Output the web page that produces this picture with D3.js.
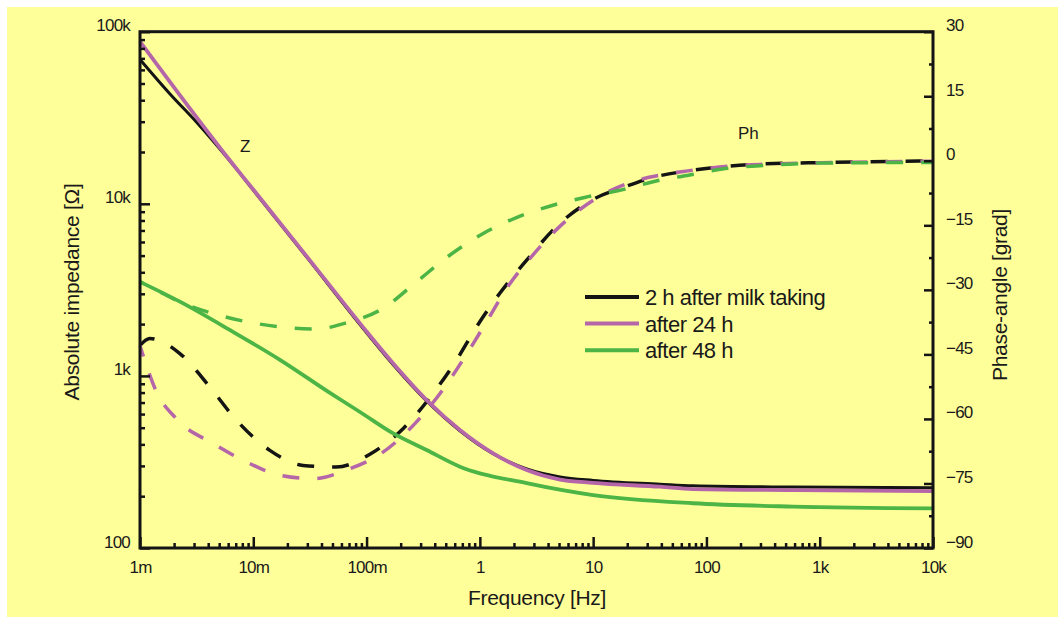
<!DOCTYPE html>
<html>
<head>
<meta charset="utf-8">
<script src="https://cdn.jsdelivr.net/npm/d3@7"></script>
<style>
  body { margin: 0; background: #fff; }
  text { font-family: "Liberation Sans", Arial, sans-serif; fill: #1a1a1a; }
</style>
</head>
<body>
<div id="chart"></div>
<script>
// ---- data ----
// impedance |Z| in ohm (left log axis)
const freqZBlack = [0.001, 0.00184, 0.00316, 0.00508, 0.0068, 0.01, 0.03, 0.093, 0.172, 0.339, 0.667, 1.31, 2.59, 5.1, 10, 39, 76, 580, 10000];
const zBlack     = [69000, 43500, 29800, 20800, 16500, 12000, 4850, 1890, 1160, 715, 480, 353, 288, 259, 247, 235, 230, 226, 224];

const freqZPurple = [0.001, 0.0062, 0.01, 0.03, 0.093, 0.172, 0.339, 0.667, 1.31, 2.59, 5.1, 10, 39, 76, 580, 10000];
const zPurple     = [87500, 17900, 12100, 4900, 1920, 1180, 724, 485, 355, 284, 250, 239, 227, 220, 217, 214];

const freqZGreen = [0.001, 0.00225, 0.0062, 0.0172, 0.0475, 0.0875, 0.172, 0.339, 0.667, 2.59, 10, 76, 580, 10000];
const zGreen     = [3520, 2700, 1850, 1240, 796, 617, 463, 371, 297, 238, 203, 182, 174, 170];

// phase angle in grad (right linear axis)
const freqPBlack = [0.001, 0.00122, 0.00225, 0.00414, 0.0071, 0.014, 0.0275, 0.054, 0.107, 0.211, 0.386, 0.623, 0.935, 1.5, 2.59, 4.74, 9.2, 19.3, 35.7, 71, 138, 275, 1150, 10000];
const pBlack     = [-42.9, -41.3, -44.8, -52.6, -60.3, -67.3, -70.8, -71.2, -68.2, -62.2, -54.1, -46.3, -38.6, -30.8, -23.1, -15.3, -9.5, -6.0, -3.7, -2.3, -1.4, -0.8, -0.4, 0];

const freqPPurple = [0.001, 0.00115, 0.00136, 0.0021, 0.0044, 0.0087, 0.0172, 0.034, 0.066, 0.135, 0.267, 0.457, 0.72, 1.10, 1.72, 2.94, 5.4, 10.7, 21, 44, 86, 168, 330, 1380, 10000];
const pPurple     = [-43, -47.9, -53.0, -60.0, -65.7, -70.0, -73.1, -73.9, -71.9, -68.0, -61.1, -53.7, -46.0, -38.2, -29.7, -21.9, -14.6, -8.7, -5.1, -3.1, -2.0, -1.2, -0.8, -0.4, -0.1];

const freqPGreen = [0.001, 0.0015, 0.00225, 0.0044, 0.0087, 0.0172, 0.036, 0.064, 0.14, 0.277, 0.545, 1.07, 2.1, 4.2, 8.8, 18.3, 36, 71, 138, 275, 540, 1150, 10000];
const pGreen     = [-28.1, -30.5, -32.8, -35.5, -37.4, -38.6, -39.1, -37.8, -34.3, -28.1, -21.9, -16.9, -13.2, -10.5, -8.4, -6.7, -4.7, -3.3, -1.9, -1.2, -0.8, -0.5, -0.4];

const seriesNames = ["2 h after milk taking", "after 24 h", "after 48 h"];
const seriesColors = ["#141414", "#b466a8", "#4db446"];

const xTickValues = [0.001, 0.01, 0.1, 1, 10, 100, 1000, 10000];
const xTickLabels = ["1m", "10m", "100m", "1", "10", "100", "1k", "10k"];
const zTickValues = [100, 1000, 10000, 100000];
const zTickLabels = ["100", "1k", "10k", "100k"];
const pTickValues = [30, 15, 0, -15, -30, -45, -60, -75, -90];

// ---- layout ----
const width = 1058, height = 617;
const plot = {left: 140, right: 933, top: 31.7, bottom: 548};

const svg = d3.select("#chart").append("svg")
    .attr("width", width)
    .attr("height", height);

// yellow figure background
svg.append("rect")
    .attr("x", 7).attr("y", 7)
    .attr("width", width - 7).attr("height", height - 7)
    .attr("fill", "#ffff99");

const x = d3.scaleLog().domain([1e-3, 1e4]).range([plot.left, plot.right]);
const yZ = d3.scaleLog().domain([100, 1e5]).range([plot.bottom, plot.top]);
const yP = d3.scaleLinear().domain([-90, 30]).range([plot.bottom, plot.top]);

// minor tick values (2..9 per decade)
function minorTicks(lo, hi) {
    const out = [];
    for (let e = Math.log10(lo); e < Math.log10(hi); e++) {
        for (let m = 2; m <= 9; m++) out.push(m * Math.pow(10, e));
    }
    return out;
}
const pMinor = d3.range(-82.5, 30, 15);

// ---- curves ----
const lineZ = d3.line().x(d => x(d[0])).y(d => yZ(d[1])).curve(d3.curveMonotoneX);
const lineP = d3.line().x(d => x(d[0])).y(d => yP(d[1])).curve(d3.curveMonotoneX);

const zSeries = [d3.zip(freqZBlack, zBlack), d3.zip(freqZPurple, zPurple), d3.zip(freqZGreen, zGreen)];
const pSeries = [d3.zip(freqPBlack, pBlack), d3.zip(freqPPurple, pPurple), d3.zip(freqPGreen, pGreen)];

const curves = svg.append("g");
pSeries.forEach((s, i) => {
    curves.append("path")
        .attr("d", lineP(s))
        .attr("fill", "none")
        .attr("stroke", seriesColors[i])
        .attr("stroke-width", 3.5)
        .attr("stroke-dasharray", "17,18")
        .attr("stroke-dashoffset", i * 6);
});
zSeries.forEach((s, i) => {
    curves.append("path")
        .attr("d", lineZ(s))
        .attr("fill", "none")
        .attr("stroke", seriesColors[i])
        .attr("stroke-width", i === 0 ? 3 : 3.8);
});

// ---- axes ----
function styleAxis(g) {
    g.select(".domain").remove();
    g.selectAll("line").attr("stroke", "#141414").attr("stroke-width", 2.5);
}

// bottom
svg.append("g").attr("transform", `translate(0,${plot.bottom})`)
    .call(d3.axisBottom(x).tickValues(minorTicks(1e-3, 1e4)).tickSize(-5).tickFormat(""))
    .call(styleAxis);
const xAx = svg.append("g").attr("transform", `translate(0,${plot.bottom})`)
    .call(d3.axisBottom(x).tickValues(xTickValues).tickSize(-11)
        .tickFormat((d, i) => xTickLabels[i]))
    .call(styleAxis);
xAx.selectAll("text").attr("y", 25).attr("dy", 0).attr("font-size", 17)
    .attr("letter-spacing", "-0.8").attr("fill", "#1a1a1a");

// left
svg.append("g").attr("transform", `translate(${plot.left},0)`)
    .call(d3.axisLeft(yZ).tickValues(minorTicks(100, 1e5)).tickSize(-5).tickFormat(""))
    .call(styleAxis);
const zAx = svg.append("g").attr("transform", `translate(${plot.left},0)`)
    .call(d3.axisLeft(yZ).tickValues(zTickValues).tickSize(-10)
        .tickFormat((d, i) => zTickLabels[i]))
    .call(styleAxis);
zAx.selectAll("text").attr("x", -10).attr("dy", -1).attr("font-size", 17)
    .attr("letter-spacing", "-0.8").attr("fill", "#1a1a1a");

// right
svg.append("g").attr("transform", `translate(${plot.right},0)`)
    .call(d3.axisRight(yP).tickValues(pMinor).tickSize(-4).tickFormat(""))
    .call(styleAxis);
const pAx = svg.append("g").attr("transform", `translate(${plot.right},0)`)
    .call(d3.axisRight(yP).tickValues(pTickValues).tickSize(-9).tickFormat(d3.format("d")))
    .call(styleAxis);
pAx.selectAll("text").attr("x", 13).attr("dy", -1).attr("font-size", 17)
    .attr("letter-spacing", "-0.8").attr("fill", "#1a1a1a");

// frame
svg.append("rect")
    .attr("x", plot.left).attr("y", plot.top)
    .attr("width", plot.right - plot.left).attr("height", plot.bottom - plot.top)
    .attr("fill", "none").attr("stroke", "#141414").attr("stroke-width", 3);

// ---- titles ----
svg.append("text")
    .attr("x", 537).attr("y", 605)
    .attr("text-anchor", "middle").attr("font-size", 21).attr("letter-spacing", "-0.3")
    .text("Frequency [Hz]");
svg.append("text")
    .attr("transform", "translate(79,292) rotate(-90)")
    .attr("text-anchor", "middle").attr("font-size", 21).attr("letter-spacing", "-0.3")
    .text("Absolute impedance [Ω]");
svg.append("text")
    .attr("transform", "translate(1007,295) rotate(-90)")
    .attr("text-anchor", "middle").attr("font-size", 21).attr("letter-spacing", "-0.3")
    .text("Phase-angle [grad]");

// curve labels
svg.append("text").attr("x", 240).attr("y", 152).attr("font-size", 17).text("Z");
svg.append("text").attr("x", 738).attr("y", 139).attr("font-size", 17).text("Ph");

// ---- legend ----
const legend = svg.append("g").attr("transform", "translate(585,297)");
seriesNames.forEach((name, i) => {
    const row = legend.append("g").attr("transform", `translate(0,${i * 26.6})`);
    row.append("line")
        .attr("x1", 0).attr("x2", 54)
        .attr("stroke", seriesColors[i]).attr("stroke-width", 4);
    row.append("text")
        .attr("x", 60).attr("y", 8)
        .attr("font-size", 22).attr("letter-spacing", "-0.5")
        .text(name);
});
</script>
</body>
</html>
